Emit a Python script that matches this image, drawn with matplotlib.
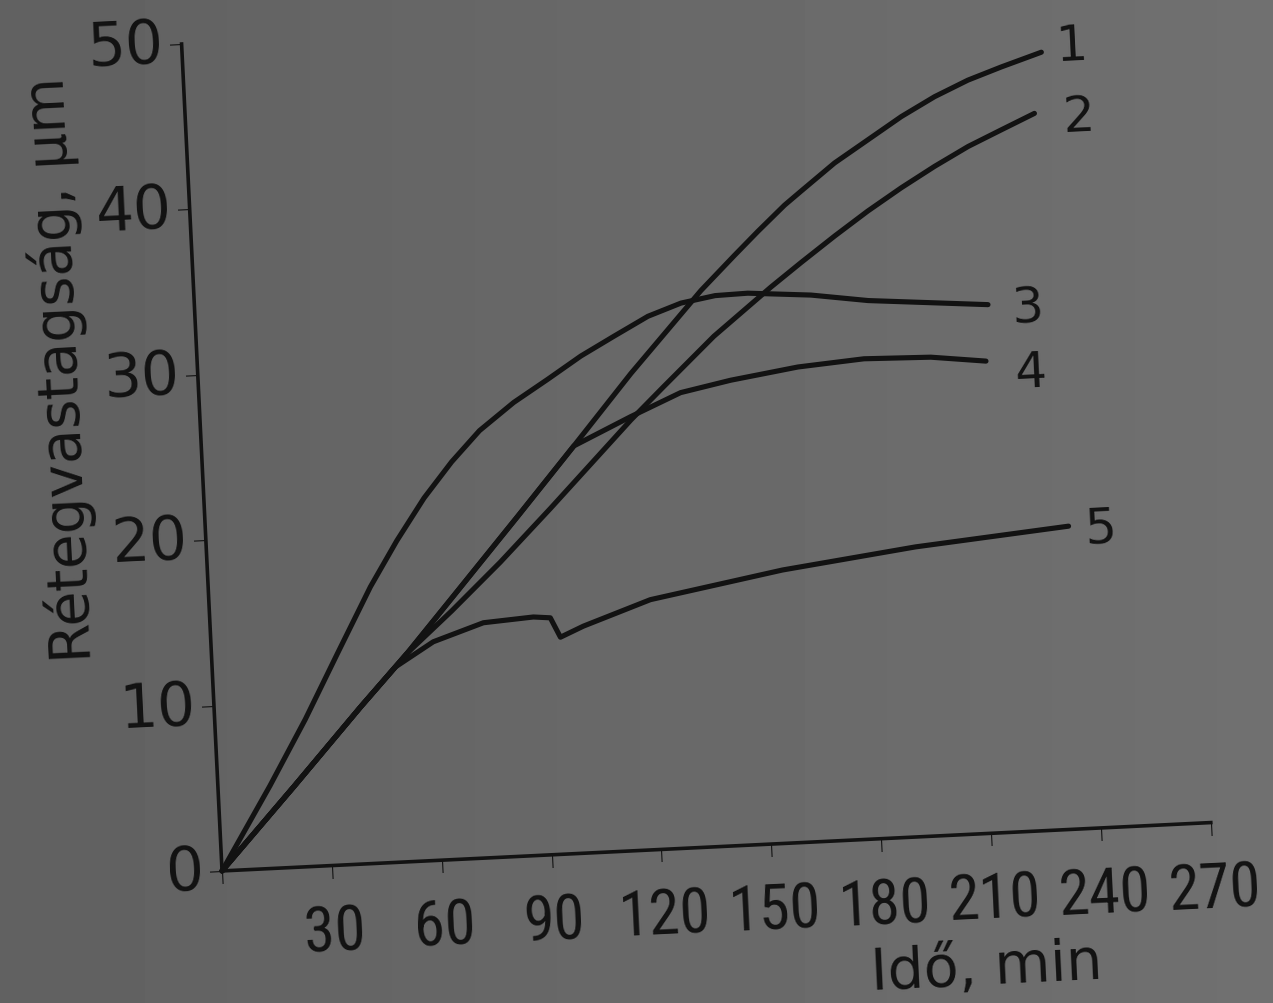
import numpy as np
import matplotlib
matplotlib.use("Agg")
import matplotlib.pyplot as plt
from matplotlib.transforms import Affine2D
import mpl_toolkits.axisartist.floating_axes as floating_axes
from mpl_toolkits.axisartist.grid_finder import FixedLocator, DictFormatter

plt.rcParams['font.family'] = ['DejaVu Sans']

# adatok (leolvasva): ido [min], retegvastagsag [um]
ido_1 = [0, 20.8, 40, 53.4, 65.9, 85.2, 101.5, 118, 138.2, 147.7, 154.5, 162.1, 166.8,
         176.3, 185.7, 195.1, 204.4, 213.7, 223, 234.1]
vast_1 = [0, 4.9, 9.5, 12.6, 15.7, 20.5, 24.6, 28.8, 33.6, 35.6, 37.0, 38.5, 39.3,
          40.9, 42.2, 43.5, 44.6, 45.5, 46.2, 46.97]

ido_2 = [0, 20.8, 40, 53.4, 66, 79.9, 94.3, 117.4, 126.7, 141.1, 157.3, 165.9, 175.4,
         184.7, 194.1, 203.5, 212.9, 222.1, 231.4]
vast_2 = [0, 4.9, 9.5, 12.6, 15.0, 17.8, 20.9, 26.0, 27.9, 30.8, 33.6, 35.0, 36.5,
          37.9, 39.2, 40.4, 41.5, 42.4, 43.3]

ido_3 = [0, 14.2, 24.7, 34.4, 44.2, 52, 60, 68, 76, 85.7, 95.3, 104.6, 113.9, 123.4,
         132.6, 142, 150.9, 168.1, 183.6, 216.2]
vast_3 = [0, 5.0, 8.9, 12.8, 16.7, 19.4, 21.9, 24.0, 25.8, 27.4, 28.7, 30.0, 31.1, 32.2,
          32.9, 33.25, 33.3, 33.0, 32.5, 31.9]

ido_4 = [0, 20.8, 40, 53.4, 65.9, 85.2, 101.5, 117.4, 131.3, 145.1, 163.6, 181.7, 199.9, 214.9]
vast_4 = [0, 4.9, 9.5, 12.6, 15.7, 20.5, 24.6, 26.2, 27.5, 28.1, 28.7, 29.0, 28.9, 28.5]

ido_5 = [0, 20.8, 40, 50, 60.6, 74.5, 88.2, 92.8, 95.3, 101.7, 120.3, 156.7, 193.2, 235.2]
vast_5 = [0, 4.9, 9.5, 11.8, 13.2, 14.2, 14.4, 14.3, 13.1, 13.7, 15.1, 16.5, 17.5, 18.3]

gorbe_nevek = ['1', '2', '3', '4', '5']
nev_x = [242.4, 243.3, 227, 227, 243.9]
nev_y = [47.3, 43.0, 31.6, 27.7, 18.1]

x_tickek = [0, 30, 60, 90, 120, 150, 180, 210, 240, 270]
y_tickek = [0, 10, 20, 30, 40, 50]

fekete = '#121212'

fig = plt.figure(figsize=(12.73, 10.04), dpi=100)
fig.patch.set_facecolor('#6b6b6b')

# szurke papir hatter, balra kicsit sotetebb
bg = fig.add_axes([0, 0, 1, 1], zorder=-10)
bg.imshow(np.tile(np.linspace(0.38, 0.44, 200), (50, 1)), cmap='gray', vmin=0, vmax=1,
          aspect='auto', extent=(0, 1, 0, 1), interpolation='bilinear')
bg.set_axis_off()

# a nyomtatott abra kicsit el van forgatva
szog = 2.8
tr = Affine2D().scale(3.667, 16.56).rotate_deg(szog)

x_fmt = DictFormatter({t: ('' if t == 0 else str(t)) for t in x_tickek})
y_fmt = DictFormatter({t: str(t) for t in y_tickek})
grid_helper = floating_axes.GridHelperCurveLinear(
    tr, extremes=(0, 270, 0, 50),
    grid_locator1=FixedLocator(x_tickek), tick_formatter1=x_fmt,
    grid_locator2=FixedLocator(y_tickek), tick_formatter2=y_fmt)

W, H = 1273, 1004
ax = fig.add_axes([171.3 / W, 123.25 / H, 1049.8 / W, 892.9 / H],
                  axes_class=floating_axes.FloatingAxes, grid_helper=grid_helper)
ax.patch.set_visible(False)
ax.axis["top"].set_visible(False)
ax.axis["right"].set_visible(False)

for nev in ["bottom", "left"]:
    a = ax.axis[nev]
    a.line.set_linewidth(2.6)
    a.line.set_color(fekete)
    a.major_ticks.set_tick_out(True)
    a.major_ticks.set_ticksize(9)
    a.major_ticks.set_linewidth(2.4)
    a.major_ticks.set_color(fekete)
    a.major_ticklabels.set_color(fekete)

ax.axis["bottom"].major_ticklabels.set_fontsize(45)
ax.axis["bottom"].major_ticklabels.set_fontfamily(
    ['Liberation Sans Narrow', 'DejaVu Sans Condensed', 'Roboto Condensed', 'Liberation Sans'])
ax.axis["bottom"].major_ticklabels.set_pad(19)
ax.axis["left"].major_ticklabels.set_fontsize(43)
ax.axis["left"].major_ticklabels.set_pad(4)

aux = ax.get_aux_axes(tr)

sorozatok = [(ido_1, vast_1), (ido_2, vast_2), (ido_3, vast_3), (ido_4, vast_4), (ido_5, vast_5)]
for (xs, ys) in sorozatok:
    aux.plot(xs, ys, color=fekete, linewidth=3.7, solid_joinstyle='round',
             solid_capstyle='round', clip_on=False)

for nev, tx, ty in zip(gorbe_nevek, nev_x, nev_y):
    aux.text(tx, ty, nev, fontsize=36, color=fekete, ha='center', va='center',
             rotation=szog, rotation_mode='anchor')

aux.text(207, -8.1, 'Idő, min', fontsize=41, color=fekete, ha='center', va='center',
         rotation=szog, rotation_mode='anchor')
aux.text(-37.2, 30.8, 'Rétegvastagság, µm', fontsize=41, color=fekete, ha='center',
         va='center', rotation=90 + szog, rotation_mode='anchor')

fig.savefig('out.png', dpi=100, facecolor=fig.get_facecolor())
